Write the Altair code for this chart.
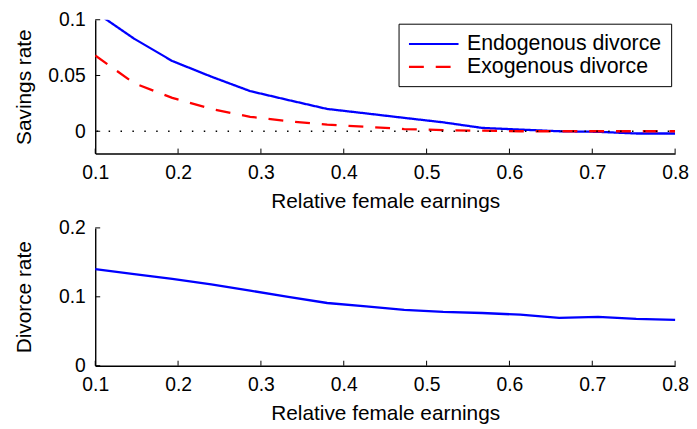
import altair as alt
import pandas as pd

# ---- data ----
x_grid = [0.1, 0.147, 0.193, 0.24, 0.287, 0.333, 0.38, 0.427, 0.473, 0.52,
          0.567, 0.613, 0.66, 0.707, 0.753, 0.8]
savings_endogenous = [0.107, 0.083, 0.063, 0.049, 0.036, 0.028, 0.020, 0.016,
                      0.012, 0.008, 0.003, 0.0015, 0.0, -0.0005, -0.002, -0.002]
savings_exogenous = [0.068, 0.043, 0.030, 0.020, 0.013, 0.009, 0.006, 0.004,
                     0.002, 0.001, 0.0005, 0.0, 0.0, 0.0, 0.0, 0.0]
divorce_rate = [0.140, 0.133, 0.126, 0.118, 0.109, 0.100, 0.091, 0.086,
                0.081, 0.078, 0.0765, 0.074, 0.0695, 0.071, 0.068, 0.0665]
series_names = ["Endogenous divorce", "Exogenous divorce"]
series_colors = ["#0000ff", "#ff0000"]
series_dashes = [[1, 0], [15, 12]]
x_ticks = [0.1, 0.2, 0.3, 0.4, 0.5, 0.6, 0.7, 0.8]
savings_ticks = [0, 0.05, 0.1]
divorce_ticks = [0, 0.1, 0.2]
zero_line = [0]

FONT = "Liberation Sans"
W, H1, H2 = 585, 135, 139
LABEL_SIZE = 19.5
TITLE_SIZE = 21
LEGEND_SIZE = 21.5

sav_df = pd.DataFrame({
    "x": x_grid * 2,
    "y": savings_endogenous + savings_exogenous,
    "series": [n for n in series_names for _ in x_grid],
})
div_df = pd.DataFrame({"x": x_grid, "y": divorce_rate})
xt_df = pd.DataFrame({"x": x_ticks})
st_df = pd.DataFrame({"y": savings_ticks})
dt_df = pd.DataFrame({"y": divorce_ticks})
zero_df = pd.DataFrame({"y": zero_line})

xscale = alt.Scale(domain=[0.1, 0.8], nice=False, zero=False)
sav_scale = alt.Scale(domain=[-0.02, 0.1], nice=False, zero=False)
div_scale = alt.Scale(domain=[0, 0.2], nice=False)


def x_enc():
    return alt.X("x:Q", scale=xscale,
                 axis=alt.Axis(values=x_ticks, format=".1f", ticks=False, tickSize=0,
                               labelPadding=10, title="Relative female earnings",
                               titlePadding=9, grid=False, labelFlush=False))


def sav_y():
    return alt.Y("y:Q", scale=sav_scale,
                 axis=alt.Axis(values=savings_ticks, format="~g", ticks=False,
                               tickSize=0, labelPadding=10, title="Savings rate",
                               titlePadding=13, grid=False))


def div_y():
    return alt.Y("y:Q", scale=div_scale,
                 axis=alt.Axis(values=divorce_ticks, format="~g", ticks=False,
                               tickSize=0, labelPadding=10, title="Divorce rate",
                               titlePadding=24, grid=False))


def legend():
    return alt.Legend(orient="none", legendX=306, legendY=4, title=None,
                      strokeColor="black", fillColor="white", padding=9,
                      symbolType="M-1,0H4", symbolSize=400,
                      symbolStrokeWidth=2.2, labelFontSize=LEGEND_SIZE,
                      labelFont=FONT, labelColor="black", labelOffset=37,
                      labelLimit=400, rowPadding=1, cornerRadius=0)


# ---- top panel ----
sav_lines = alt.Chart(sav_df).mark_line(strokeWidth=2.3, clip=True).encode(
    x=x_enc(),
    y=sav_y(),
    color=alt.Color("series:N",
                    scale=alt.Scale(domain=series_names, range=series_colors),
                    legend=legend()),
    strokeDash=alt.StrokeDash("series:N",
                              scale=alt.Scale(domain=series_names, range=series_dashes),
                              legend=legend()),
)

zero_rule = alt.Chart(zero_df).mark_rule(
    color="black", strokeDash=[1.5, 10.5], strokeWidth=1.5, strokeDashOffset=-6
).encode(y=sav_y())

sav_xticks = alt.Chart(xt_df).mark_rule(color="black", strokeWidth=1).encode(
    x=x_enc(), y=alt.value(H1), y2=alt.value(H1 - 5))
sav_yticks = alt.Chart(st_df).mark_rule(color="black", strokeWidth=1).encode(
    y=sav_y(), x=alt.value(0), x2=alt.value(5))

top = alt.layer(sav_lines, zero_rule, sav_xticks, sav_yticks).properties(
    width=W, height=H1)

# ---- bottom panel ----
div_line = alt.Chart(div_df).mark_line(strokeWidth=2.3, color="#0000ff").encode(
    x=x_enc(), y=div_y())
div_xticks = alt.Chart(xt_df).mark_rule(color="black", strokeWidth=1).encode(
    x=x_enc(), y=alt.value(H2), y2=alt.value(H2 - 5))
div_yticks = alt.Chart(dt_df).mark_rule(color="black", strokeWidth=1).encode(
    y=div_y(), x=alt.value(0), x2=alt.value(5))

bottom = alt.layer(div_line, div_xticks, div_yticks).properties(width=W, height=H2)

chart = alt.vconcat(top, bottom, spacing=6).properties(
    padding={"left": 5, "top": 0, "right": 0, "bottom": 0}
).configure_view(stroke=None).configure_axis(
    labelFont=FONT, titleFont=FONT, labelFontSize=LABEL_SIZE,
    titleFontSize=TITLE_SIZE, titleFontWeight="normal", labelColor="black",
    titleColor="black", domainColor="black", domainWidth=1.4,
).configure_legend(labelFont=FONT, labelFontSize=LEGEND_SIZE, labelColor="black")

chart.save("out.html", embed_options={"renderer": "svg", "actions": False})
